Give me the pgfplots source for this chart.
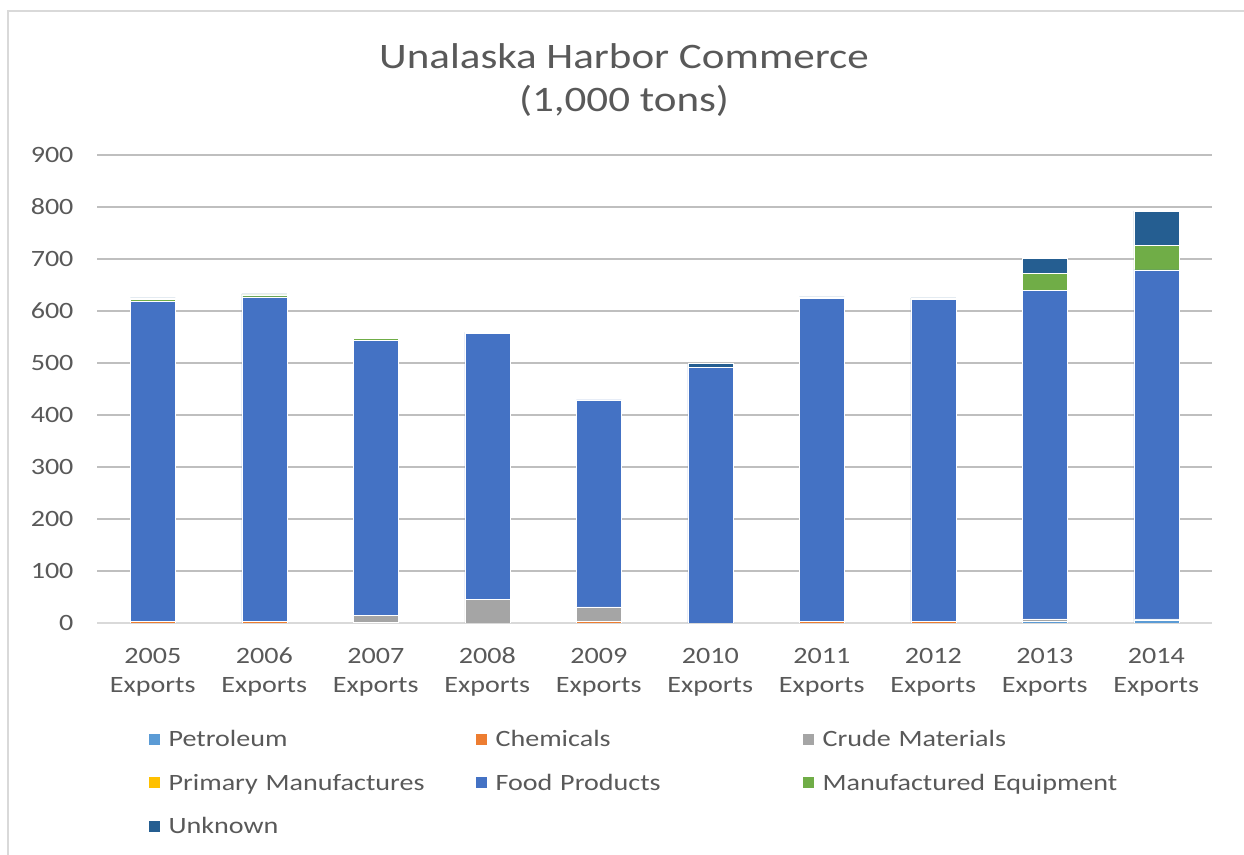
\documentclass[border=0pt]{standalone}
\usepackage{fontspec}
\setmainfont{Carlito}[FakeStretch=1.2]
\usepackage{pgfplots}
\pgfplotsset{compat=1.18}
\definecolor{cPet}{HTML}{5B9BD5}
\definecolor{cChem}{HTML}{ED7D31}
\definecolor{cCrude}{HTML}{A5A5A5}
\definecolor{cPrim}{HTML}{FFC000}
\definecolor{cFood}{HTML}{4472C4}
\definecolor{cEquip}{HTML}{70AD47}
\definecolor{cUnk}{HTML}{255E91}
\definecolor{txt}{HTML}{595959}
\definecolor{grid}{HTML}{D9D9D9}
\begin{document}
\begin{tikzpicture}[x=1bp,y=1bp]
\path[use as bounding box] (0,0) rectangle (1244,855);
\draw[grid, line width=1.2bp] (8,0) -- (8,844) -- (1244,844);
\node[txt, font=\fontsize{36}{40}\selectfont] at (624,799) {Unalaska Harbor Commerce};
\node[txt, font=\fontsize{36}{40}\selectfont] at (624,754) {(1,000 tons)};
\begin{axis}[
  at={(97bp,232bp)}, anchor=south west,
  scale only axis, width=1115bp, height=468bp,
  ybar stacked, bar width=45bp,
  xmin=-0.5, xmax=9.5, ymin=0, ymax=900,
  ytick={0,100,...,900},
  xtick={0,...,9},
  xticklabels={{\strut2005\\Exports},{\strut2006\\Exports},{\strut2007\\Exports},{\strut2008\\Exports},{\strut2009\\Exports},{\strut2010\\Exports},{\strut2011\\Exports},{\strut2012\\Exports},{\strut2013\\Exports},{\strut2014\\Exports}},
  xticklabel style={align=center, font=\fontsize{23.5}{29}\selectfont, text=txt, yshift=-17bp},
  yticklabel style={font=\fontsize{23.5}{28}\selectfont, text=txt, xshift=-20bp},
  /pgf/number format/assume math mode=true,
  major tick length=0pt,
  axis x line*=bottom, axis y line*=left,
  x axis line style={draw=grid, line width=2bp, -},
  y axis line style={draw=none},
  xmajorgrids=false, ymajorgrids, grid style={grid, line width=1.2bp},
  legend columns=3,
  legend style={at={(axis description cs:0.0434,-0.22)}, anchor=north west, draw=none, fill=none,
    font=\fontsize{23.5}{28}\selectfont, text=txt,
    /tikz/every even column/.append style={text width=305bp},
    /tikz/every odd column/.append style={column sep=7bp},
    row sep=22bp},
  legend cell align=left,
  legend image code/.code={\fill[#1,draw=none] (0bp,-5.5bp) rectangle (11bp,5.5bp);},
  every axis plot/.append style={draw=white, line width=0.4bp},
]
\addplot[fill=cPet] coordinates {(0,0) (1,0) (2,0) (3,0) (4,0) (5,0) (6,0) (7,0) (8,3) (9,6)};
\addplot[fill=cChem] coordinates {(0,3) (1,3) (2,1) (3,0) (4,3) (5,0) (6,3) (7,3) (8,0) (9,0)};
\addplot[fill=cCrude] coordinates {(0,0) (1,0) (2,14) (3,46) (4,28) (5,0) (6,0) (7,0) (8,5) (9,2)};
\addplot[fill=cPrim] coordinates {(0,0) (1,0) (2,0) (3,0) (4,0) (5,0) (6,0) (7,0) (8,0) (9,0)};
\addplot[fill=cFood] coordinates {(0,616) (1,624) (2,529) (3,511) (4,398) (5,491) (6,621) (7,619) (8,632) (9,671)};
\addplot[fill=cEquip] coordinates {(0,4) (1,4) (2,3) (3,0) (4,0) (5,0) (6,2) (7,2) (8,32) (9,47)};
\addplot[fill=cUnk] coordinates {(0,2) (1,2) (2,2) (3,2) (4,1) (5,8) (6,1) (7,1) (8,29) (9,66)};
\legend{Petroleum,Chemicals,Crude Materials,Primary Manufactures,Food Products,Manufactured Equipment,Unknown}
\end{axis}
\end{tikzpicture}
\end{document}
